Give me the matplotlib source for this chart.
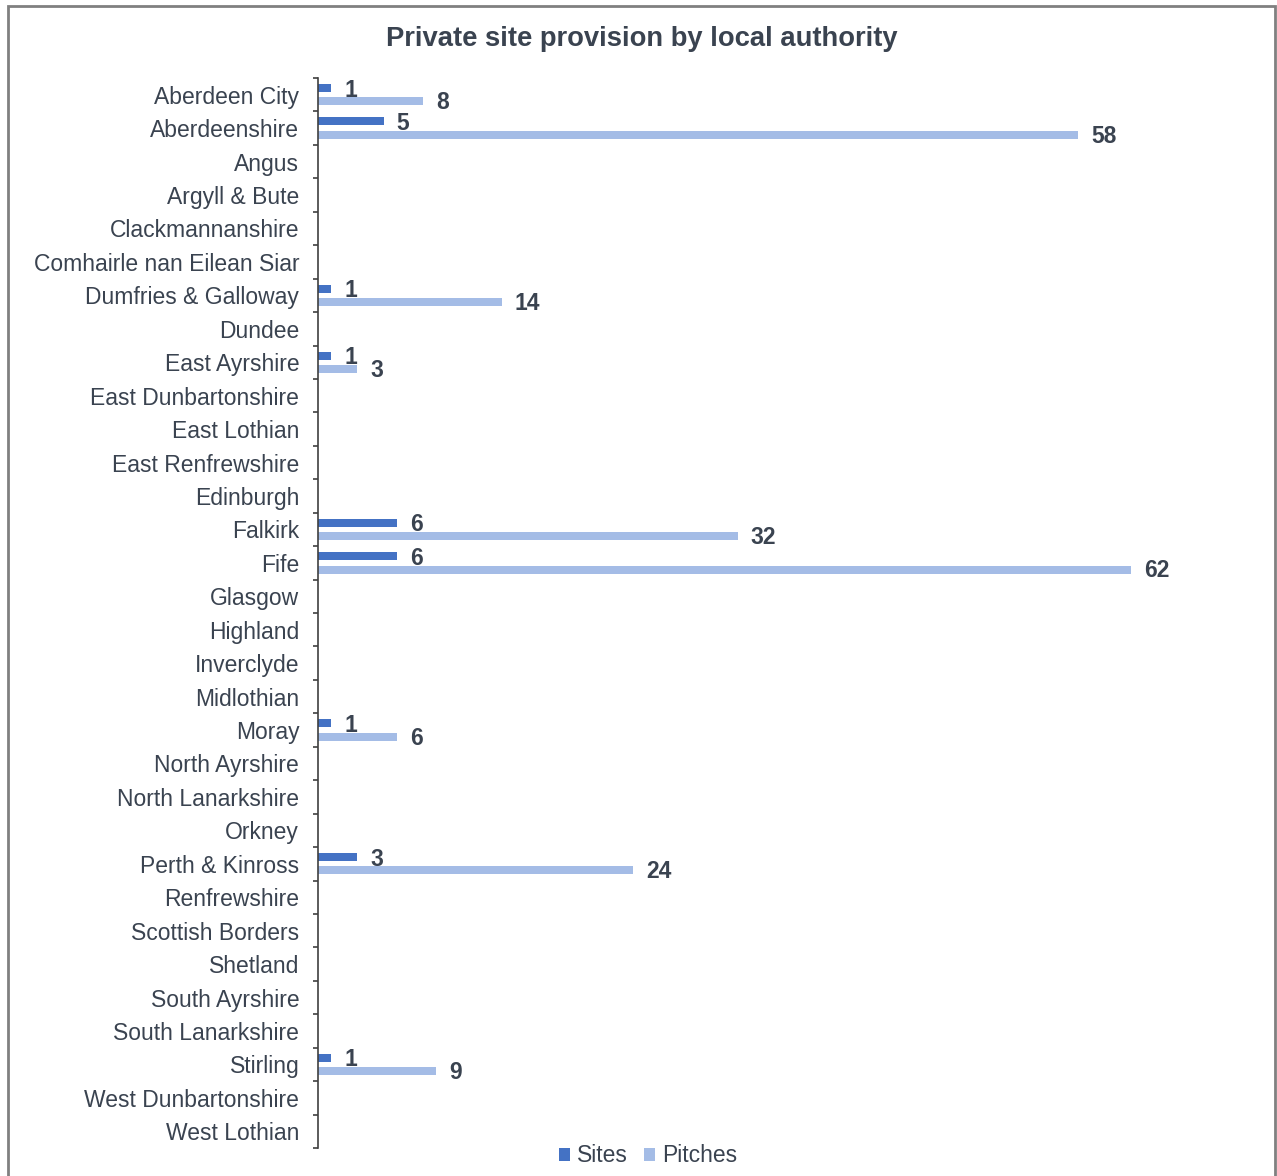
import numpy as np
import matplotlib
matplotlib.use("Agg")
from matplotlib import pyplot as plt
from matplotlib.patches import Rectangle

authorities = ["Aberdeen City", "Aberdeenshire", "Angus", "Argyll & Bute", "Clackmannanshire",
               "Comhairle nan Eilean Siar", "Dumfries & Galloway", "Dundee", "East Ayrshire",
               "East Dunbartonshire", "East Lothian", "East Renfrewshire", "Edinburgh", "Falkirk",
               "Fife", "Glasgow", "Highland", "Inverclyde", "Midlothian", "Moray", "North Ayrshire",
               "North Lanarkshire", "Orkney", "Perth & Kinross", "Renfrewshire", "Scottish Borders",
               "Shetland", "South Ayrshire", "South Lanarkshire", "Stirling", "West Dunbartonshire",
               "West Lothian"]
sites = [1, 5, 0, 0, 0, 0, 1, 0, 1, 0, 0, 0, 0, 6, 6, 0, 0, 0, 0, 1, 0, 0, 0, 3, 0, 0, 0, 0, 0, 1, 0, 0]
pitches = [8, 58, 0, 0, 0, 0, 14, 0, 3, 0, 0, 0, 0, 32, 62, 0, 0, 0, 0, 6, 0, 0, 0, 24, 0, 0, 0, 0, 0, 9, 0, 0]

plt.rcParams['font.family'] = ['Liberation Sans', 'DejaVu Sans']
text_col = '#3A4350'
blue = '#4472C4'
light = '#A4BCE6'

W, H = 1277, 1176
fig = plt.figure(figsize=(W / 100, H / 100), dpi=100)

# chart border like the spreadsheet frame
fig.patches.append(Rectangle((8 / W, -0.05), (1275 - 8) / W, (H - 6) / H + 0.05,
                             transform=fig.transFigure, fill=False, edgecolor='#808080', lw=2))

ax_left, ax_right, ax_top, ax_bot = 318, 1262, 78, 1148
ax = fig.add_axes([ax_left / W, 1 - ax_bot / H, (ax_right - ax_left) / W, (ax_bot - ax_top) / H])

y = np.arange(len(authorities))
bh = 0.24
off = 0.2
ax.barh(y - off, sites, height=bh, color=blue, label='Sites')
ax.barh(y + off, pitches, height=bh, color=light, label='Pitches')

for i in range(len(authorities)):
    if sites[i]:
        ax.text(sites[i] + 1.0, y[i] - off + 0.06, str(sites[i]), va='center', ha='left',
                fontsize=16.5, fontweight='bold', color=text_col)
    if pitches[i]:
        ax.text(pitches[i] + 1.0, y[i] + off + 0.04, str(pitches[i]), va='center', ha='left',
                fontsize=16.5, fontweight='bold', color=text_col)

ax.set_ylim(len(authorities) - 0.5, -0.5)
ax.set_xlim(0, 72)
ax.set_yticks(y)
ax.set_yticklabels(authorities, fontsize=16.5, color=text_col)
ax.tick_params(axis='y', which='major', length=0, pad=13.5)
ax.set_yticks(np.arange(-0.5, len(authorities), 1), minor=True)
ax.tick_params(axis='y', which='minor', length=3.5, width=1.2, color='#404040')
ax.set_xticks([])
for s in ['top', 'right', 'bottom']:
    ax.spines[s].set_visible(False)
ax.spines['left'].set_color('#404040')
ax.spines['left'].set_linewidth(1.2)

fig.text(642 / W, 1 - 39 / H, 'Private site provision by local authority', ha='center', va='center',
         fontsize=19.7, fontweight='bold', color=text_col)

fig.legend(loc='center', bbox_to_anchor=(648 / W, 1 - 1156 / H), ncol=2, frameon=False,
           fontsize=16.5, handlelength=0.5, handleheight=0.5, handletextpad=0.3,
           columnspacing=0.7, labelcolor=text_col)

fig.savefig('out.png', dpi=100)
